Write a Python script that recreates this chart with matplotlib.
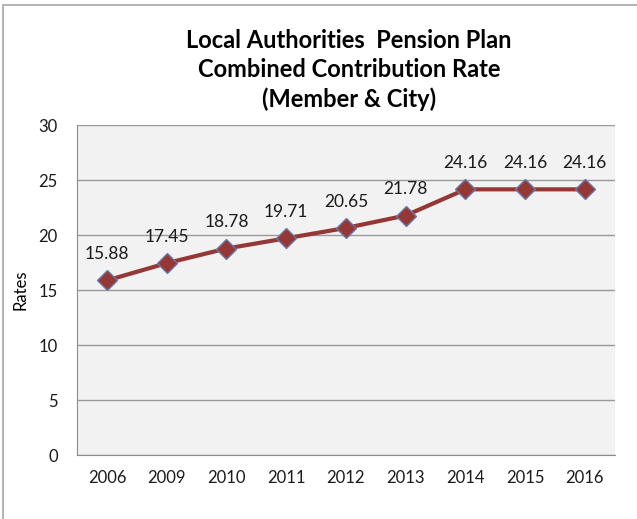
import numpy as np
import matplotlib.pyplot as plt
from matplotlib.patches import Rectangle

years = ['2006', '2009', '2010', '2011', '2012', '2013', '2014', '2015', '2016']
rates = [15.88, 17.45, 18.78, 19.71, 20.65, 21.78, 24.16, 24.16, 24.16]

plt.rcParams['font.family'] = ['Lato', 'DejaVu Sans']

fig = plt.figure(figsize=(6.37, 5.19), dpi=100)
fig.patches.append(Rectangle((3 / 637, -0.01), 1.1, 1 - 5 / 519 + 0.01, transform=fig.transFigure,
                             fill=False, edgecolor='#a6a6a6', linewidth=1.2))
ax = fig.add_axes([0.121, 0.123, 0.844, 0.636])
ax.set_facecolor('#f2f2f2')

x = np.arange(len(years))
ax.plot(x, rates, color='#953735', linewidth=3, marker='D', markersize=10,
        markerfacecolor='#953735', markeredgecolor='#6a7aa8', markeredgewidth=1, zorder=3)
for xi, v in zip(x, rates):
    ax.annotate(f'{v:.2f}', (xi, v), xytext=(0, 13), textcoords='offset points',
                ha='center', va='bottom', fontsize=12.5, color='#1a1a1a')

ax.set_xlim(-0.5, len(years) - 0.5)
ax.set_ylim(0, 30)
ax.set_yticks(range(0, 31, 5))
ax.set_xticks(x)
ax.set_xticklabels(years)
ax.yaxis.grid(True, color='#9a9a9a', linewidth=1)
ax.set_axisbelow(True)
ax.tick_params(length=0, labelsize=12, pad=11, labelcolor='#1a1a1a')
ax.tick_params(axis='y', pad=14)
for s in ['top', 'right']:
    ax.spines[s].set_visible(False)
for s in ['left', 'bottom']:
    ax.spines[s].set_color('#8c8c8c')
ax.set_ylabel('Rates', fontsize=12, labelpad=7)

fig.text(0.548, 0.865, 'Local Authorities  Pension Plan\nCombined Contribution Rate\n(Member & City)',
         ha='center', va='center', fontsize=17, fontweight='bold', linespacing=1.3)

fig.savefig('out.png', dpi=100)
